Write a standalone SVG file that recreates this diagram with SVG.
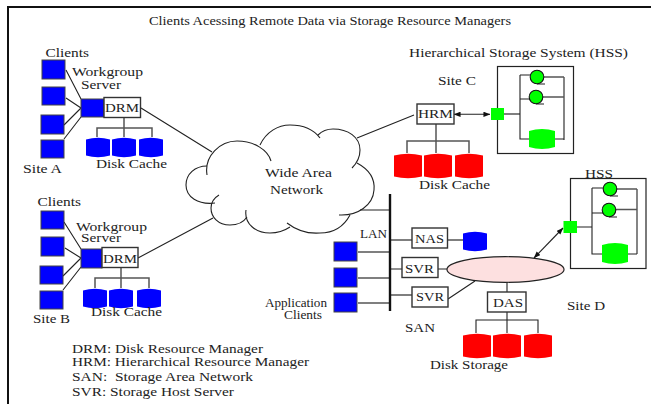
<svg xmlns="http://www.w3.org/2000/svg" width="653" height="404" viewBox="0 0 653 404">
<style>
text{font-family:"Liberation Serif","Times New Roman",serif;font-size:13px;fill:#222}
.l{fill:none;stroke:#222;stroke-width:1.1}
.g{fill:none;stroke:#555;stroke-width:1.5}
.b{fill:#fff;stroke:#333;stroke-width:1.4}
.c{fill:#00f;stroke:#444;stroke-width:1}
.bd{fill:#00f}.rd{fill:#f00}.gd{fill:#0f0}
.t{fill:#0f0;stroke:#111;stroke-width:1.1}
</style>
<defs>
<marker id="a" viewBox="0 0 8 6" refX="7.500" refY="3" markerUnits="userSpaceOnUse" markerWidth="7" markerHeight="5.500" orient="auto-start-reverse"><path d="M0 0L8 3L0 6z" fill="#111"/></marker>
<path id="red" d="M0 2.500Q14-1 28 2.500V23.500Q14 27 0 23.500Z"/>
<path id="blue" d="M0 2.500Q12-1 24 2.500V18.500Q12 22 0 18.500Z"/>
</defs>
<path d="M8 404V7H651" fill="none" stroke="#111" stroke-width="2"/>
<text x="149" y="25" textLength="362" lengthAdjust="spacingAndGlyphs">Clients Acessing Remote Data via Storage Resource Managers</text>
<g id="connectors">
<path class="l" d="M66 70L81 99M66 98L81 108M64 125L81 108M64 139L81 117M141 108L212 152M414 115L357 138"/>
<path class="g" d="M124 117V137M97 137V128H152V137"/>
<path class="l" d="M64 222L81 249M65 248L81 258M63 276L81 258M63 290L81 267M138 258L213 218"/>
<path class="g" d="M121 268V288M95 288V278H149V288"/>
<path class="g" d="M436 124V153M407 153V141H469V153"/>
<path class="l" d="M454 114.300H490" marker-start="url(#a)" marker-end="url(#a)"/>
<path class="l" d="M360 210H390M390 269H402"/>
<path class="g" d="M358 252H390M358 278H390M358 303H390M390 240H412M391 295H412M448 240H463"/>
<path d="M390 194V311" stroke="#111" stroke-width="2.400" fill="none"/>
<path class="l" d="M438 269H447M448 299L475 281"/>
<path class="l" d="M507 282V292M507 312V333M476 333V320H538V333"/>
<path class="l" d="M534 258L563 228" marker-start="url(#a)" marker-end="url(#a)"/>
</g>
<g id="site-a">
<rect class="c" x="42" y="60" width="23" height="19"/>
<rect class="c" x="42" y="87" width="23" height="18"/>
<rect class="c" x="41" y="115" width="23" height="19"/>
<rect class="c" x="41" y="140" width="23" height="18"/>
<text x="45.500" y="57" textLength="43.500" lengthAdjust="spacingAndGlyphs">Clients</text><text x="23" y="173" textLength="39" lengthAdjust="spacingAndGlyphs">Site A</text>
<text x="72" y="76" textLength="71" lengthAdjust="spacingAndGlyphs">Workgroup</text><text x="81" y="89" textLength="40" lengthAdjust="spacingAndGlyphs">Server</text>
</g>
<g id="workgroup-server-a"><rect class="c" x="81" y="99" width="23" height="18"/></g>
<g id="drm-a"><rect class="b" x="104" y="97.500" width="36.500" height="20"/><text x="105" y="112" textLength="34" lengthAdjust="spacingAndGlyphs">DRM</text></g>
<g id="cache-a">
<use href="#blue" class="bd" x="86" y="137"/><use href="#blue" class="bd" x="112" y="137"/><use href="#blue" class="bd" x="139" y="137"/>
<text x="96" y="168" textLength="71" lengthAdjust="spacingAndGlyphs">Disk Cache</text>
</g>
<g id="site-b">
<rect class="c" x="41" y="211" width="23" height="18"/>
<rect class="c" x="41" y="237" width="23" height="19"/>
<rect class="c" x="40" y="266" width="23" height="18"/>
<rect class="c" x="40" y="291" width="23" height="18"/>
<text x="37.500" y="206" textLength="43.500" lengthAdjust="spacingAndGlyphs">Clients</text><text x="33" y="323" textLength="37" lengthAdjust="spacingAndGlyphs">Site B</text>
<text x="76" y="231" textLength="71" lengthAdjust="spacingAndGlyphs">Workgroup</text><text x="81" y="242" textLength="40" lengthAdjust="spacingAndGlyphs">Server</text>
</g>
<g id="workgroup-server-b"><rect class="c" x="81" y="249" width="21" height="19"/></g>
<g id="drm-b"><rect class="b" x="102" y="247.500" width="36" height="20"/><text x="103" y="263" textLength="34" lengthAdjust="spacingAndGlyphs">DRM</text></g>
<g id="cache-b">
<use href="#blue" class="bd" x="83" y="288"/><use href="#blue" class="bd" x="109" y="288"/><use href="#blue" class="bd" x="137" y="288"/>
<text x="91" y="316" textLength="71" lengthAdjust="spacingAndGlyphs">Disk Cache</text>
</g>
<g id="wan">
<path class="l" d="M207 175C204 156 220 141 237 141C254 141 268 150 271 161"/>
<path class="l" d="M260 145C266 132 278 125 290 125C303 125 314 130 320 138"/>
<path class="l" d="M318 135C322 131 327 129 333 129C348 129 360 137 360 150C360 157 357 163 352 168"/>
<path class="l" d="M357 163C370 170 375 180 374 190C373 205 358 216 339 215"/>
<path class="l" d="M350 215C343 228 332 233 320 233C307 234 296 230 287 223"/>
<path class="l" d="M290 227C284 231 277 233 270 233C256 233 244 224 246 210"/>
<path class="l" d="M247 217C243 223 237 225 230 225C218 225 211 217 211 208C211 203 214 198 219 195"/>
<path class="l" d="M215 203C198 205 186 197 186 185C186 174 195 166 207 166"/>
<text x="265" y="177" textLength="67" lengthAdjust="spacingAndGlyphs">Wide Area</text><text x="270" y="194" textLength="53" lengthAdjust="spacingAndGlyphs">Network</text>
</g>
<g id="hrm"><rect class="b" x="417" y="104" width="37" height="20"/><text x="418" y="118" textLength="35" lengthAdjust="spacingAndGlyphs">HRM</text></g>
<g id="cache-c">
<use href="#red" class="rd" x="394" y="153"/><use href="#red" class="rd" x="424" y="153"/><use href="#red" class="rd" x="455" y="153"/>
<text x="419" y="189" textLength="71" lengthAdjust="spacingAndGlyphs">Disk Cache</text>
</g>
<g id="hss-c">
<text x="409" y="57" textLength="219" lengthAdjust="spacingAndGlyphs">Hierarchical Storage System (HSS)</text>
<text x="438" y="85" textLength="38" lengthAdjust="spacingAndGlyphs">Site C</text>
<rect x="497.500" y="66.500" width="76" height="87" fill="#fff" stroke="#222" stroke-width="1.200"/>
<path class="g" d="M504 114H520"/>
<path class="l" d="M520 75V139H530M520 75H531M520 99H530M564 77V140M555 139H564M537 84H545M536 104H544"/>
<path class="g" d="M544 77H564M542 97H564"/>
<circle class="t" cx="537" cy="77" r="6.800"/><circle class="t" cx="536" cy="97" r="6.800"/>
<rect x="491" y="108" width="13" height="12" fill="#0f0"/>
<path class="gd" d="M529 131Q542 127 555 131V147Q542 151 529 147Z"/>
</g>
<g id="lan"><text x="360" y="238" textLength="27" lengthAdjust="spacingAndGlyphs">LAN</text>
<rect class="c" x="334" y="242" width="23" height="19"/><rect class="c" x="334" y="268" width="23" height="19"/><rect class="c" x="334" y="293" width="23" height="19"/>
<text x="265" y="307" textLength="62" lengthAdjust="spacingAndGlyphs" style="font-size:12px">Application</text><text x="284" y="319" textLength="38" lengthAdjust="spacingAndGlyphs" style="font-size:12px">Clients</text>
<text x="405" y="332" textLength="30" lengthAdjust="spacingAndGlyphs">SAN</text></g>
<g id="nas"><rect class="b" x="412" y="228" width="35.500" height="20"/><text x="415" y="243" textLength="29" lengthAdjust="spacingAndGlyphs">NAS</text>
<use href="#blue" class="bd" x="463" y="231"/></g>
<g id="svr-1"><rect class="b" x="402" y="257.500" width="36" height="20"/><text x="405" y="273" textLength="29" lengthAdjust="spacingAndGlyphs">SVR</text></g>
<g id="svr-2"><rect class="b" x="412" y="287" width="36" height="20"/><text x="416" y="301" textLength="28" lengthAdjust="spacingAndGlyphs">SVR</text></g>
<g id="san-disk"><ellipse cx="505.500" cy="269.500" rx="58.500" ry="12.800" fill="#fde0e0" stroke="#222" stroke-width="1.200"/></g>
<g id="das"><rect class="b" x="487.500" y="292" width="38.500" height="20"/><text x="493" y="307" textLength="30" lengthAdjust="spacingAndGlyphs">DAS</text></g>
<g id="disk-storage">
<use href="#red" class="rd" x="463" y="333"/><use href="#red" class="rd" x="493" y="333"/><use href="#red" class="rd" x="524" y="333"/>
<text x="430" y="369" textLength="78" lengthAdjust="spacingAndGlyphs">Disk Storage</text><text x="567" y="310" textLength="38" lengthAdjust="spacingAndGlyphs">Site D</text>
</g>
<g id="hss-d">
<rect x="570.500" y="178.500" width="75.500" height="90" fill="#fff" stroke="#222" stroke-width="1.200"/>
<text x="585" y="178" textLength="28" lengthAdjust="spacingAndGlyphs">HSS</text>
<path class="l" d="M577 227H592M592 188V254H603M592 188H604M592 213H603M637 189V254M628 254H637M610 196H618M609 217H617"/>
<path class="g" d="M616 189H637M615 209.500H637"/>
<circle class="t" cx="610" cy="189" r="6.800"/><circle class="t" cx="609" cy="210" r="6.800"/>
<rect x="563.500" y="221" width="13.500" height="12" fill="#0f0"/>
<path class="gd" d="M602 245Q615 241 628 245V262Q615 266 602 262Z"/>
</g>
<g id="legend">
<text x="72" y="353" textLength="191" lengthAdjust="spacingAndGlyphs">DRM: Disk Resource Manager</text>
<text x="72" y="366" textLength="237" lengthAdjust="spacingAndGlyphs">HRM: Hierarchical Resource Manager</text>
<text x="72" y="381" textLength="181" lengthAdjust="spacingAndGlyphs" xml:space="preserve">SAN:  Storage Area Network</text>
<text x="72" y="396" textLength="162" lengthAdjust="spacingAndGlyphs">SVR: Storage Host Server</text>
</g>
</svg>
